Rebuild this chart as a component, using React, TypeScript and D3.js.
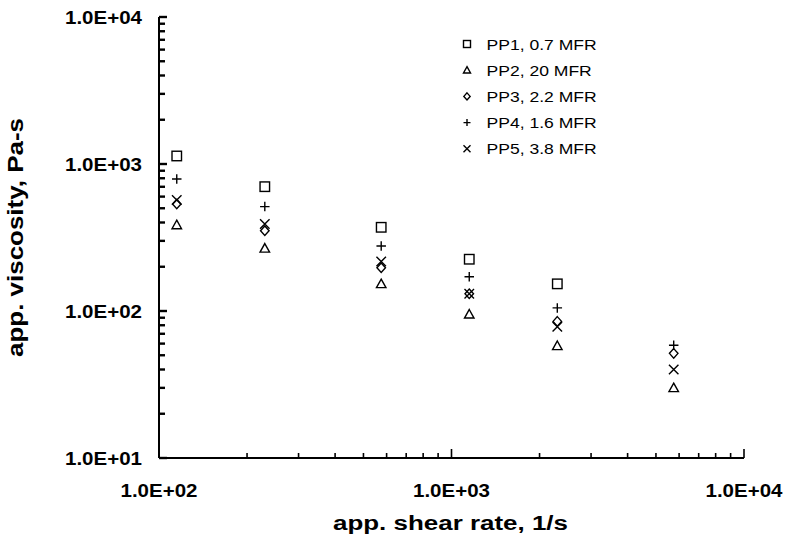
import * as d3 from "d3";

// shear rate, 1/s
const shearRate = [115, 230, 575, 1150, 2300, 5750];

// apparent viscosity, Pa-s (null = no point)
const pp1 = [1134, 701, 371, 225, 153, null];
const pp2 = [385, 267, 153, 95, 58, 30];
const pp3 = [535, 352, 197, 131, 85, 51.5];
const pp4 = [791, 513, 277, 171, 105, 58.5];
const pp5 = [569, 391, 217, 131, 78, 40];

const seriesNames = ["PP1, 0.7 MFR", "PP2, 20 MFR", "PP3, 2.2 MFR", "PP4, 1.6 MFR", "PP5, 3.8 MFR"];
const seriesShapes = ["square", "triangle", "diamond", "plus", "cross"];
const seriesValues = [pp1, pp2, pp3, pp4, pp5];

const xTickLabels = ["1.0E+02", "1.0E+03", "1.0E+04"];
const yTickLabels = ["1.0E+01", "1.0E+02", "1.0E+03", "1.0E+04"];

const width = 785,
    height = 543;

const FONT = "'Liberation Sans', Arial, Helvetica, sans-serif";

function Marker({ shape, x, y, s }: { shape: string; x: number; y: number; s: number }) {
    const h = s / 2;
    const st = { fill: "none", stroke: "#000", strokeWidth: 1.4 };
    if (shape === "square") return <rect x={x - h} y={y - h} width={s} height={s} {...st} />;
    if (shape === "triangle")
        return <path d={`M${x},${y - h}L${x + h},${y + h * 0.8}L${x - h},${y + h * 0.8}Z`} {...st} />;
    if (shape === "diamond")
        return <path d={`M${x},${y - h}L${x + h * 0.9},${y}L${x},${y + h}L${x - h * 0.9},${y}Z`} {...st} />;
    if (shape === "plus")
        return <path d={`M${x - h},${y}H${x + h}M${x},${y - h}V${y + h}`} {...st} />;
    return <path d={`M${x - h},${y - h}L${x + h},${y + h}M${x + h},${y - h}L${x - h},${y + h}`} {...st} />;
}

export default function App() {
    const x = d3.scaleLog().domain([100, 10000]).range([159, 744]);
    const y = d3.scaleLog().domain([10, 10000]).range([458, 17]);

    const isMajor = (v: number) => Math.abs(Math.log10(v) - Math.round(Math.log10(v))) < 1e-9;
    const xTicks = x.ticks();
    const yTicks = y.ticks();
    const xMajors = xTicks.filter(isMajor);
    const yMajors = yTicks.filter(isMajor);

    return (
        <svg width={width} height={height} style={{ position: "absolute", left: 0, top: 0, background: "#fff" }}>
            {/* axes */}
            <g stroke="#000" strokeWidth={2}>
                <line x1={x(100)} x2={x(10000)} y1={y(10)} y2={y(10)} />
                <line x1={x(100)} x2={x(100)} y1={y(10)} y2={y(10000)} />
                {yTicks.map((t) => (
                    <line key={"y" + t} x1={x(100)} x2={x(100) + (isMajor(t) ? 8 : 6)} y1={y(t)} y2={y(t)} strokeWidth={2.4} />
                ))}
                {xTicks.map((t) => (
                    <line key={"x" + t} x1={x(t)} x2={x(t)} y1={y(10)} y2={y(10) - (isMajor(t) ? 9 : 5)} strokeWidth={1.6} />
                ))}
            </g>

            {/* tick labels */}
            <g fontFamily={FONT} fontWeight="bold" fontSize={18} fill="#000">
                {yMajors.map((t, i) => (
                    <text key={"yl" + t} x={142 - 77} y={y(t) + 7} textLength={77} lengthAdjust="spacingAndGlyphs">
                        {yTickLabels[i]}
                    </text>
                ))}
                {xMajors.map((t, i) => (
                    <text key={"xl" + t} x={x(t) - 38.5} y={496.5} textLength={77} lengthAdjust="spacingAndGlyphs">
                        {xTickLabels[i]}
                    </text>
                ))}
            </g>

            {/* axis titles */}
            <text x={333} y={530} fontFamily={FONT} fontWeight="bold" fontSize={20} textLength={235} lengthAdjust="spacingAndGlyphs">
                app. shear rate, 1/s
            </text>
            <text
                transform="translate(23,357) rotate(-90)"
                fontFamily={FONT}
                fontWeight="bold"
                fontSize={22}
                textLength={239}
                lengthAdjust="spacingAndGlyphs"
            >
                app. viscosity, Pa-s
            </text>

            {/* data */}
            {seriesValues.map((vals, si) =>
                vals.map((v, i) =>
                    v == null ? null : (
                        <Marker key={si + "-" + i} shape={seriesShapes[si]} x={x(shearRate[i])} y={y(v)} s={9.5} />
                    )
                )
            )}

            {/* legend */}
            {seriesNames.map((name, i) => {
                const cy = 44 + i * 26.2;
                return (
                    <g key={name}>
                        <Marker shape={seriesShapes[i]} x={467} y={cy} s={7} />
                        <g transform={`translate(486.5,${cy + 5.5}) scale(1.17,1)`}>
                            <text fontFamily={FONT} fontSize={15} fill="#000">
                                {name}
                            </text>
                        </g>
                    </g>
                );
            })}
        </svg>
    );
}
